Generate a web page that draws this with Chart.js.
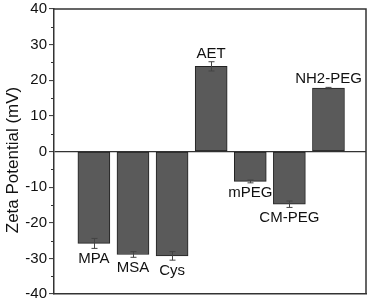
<!DOCTYPE html>
<html><head><meta charset="utf-8">
<script src="https://cdn.jsdelivr.net/npm/chart.js@4"></script>
<style>html,body{margin:0;padding:0;background:#fff}#wrap{width:370px;height:302px}</style>
</head><body><div id="wrap"><canvas id="c"></canvas></div>
<script>
const categories = ['MPA','MSA','Cys','AET','mPEG','CM-PEG','NH2-PEG'];
const zeta = [-25.8, -28.9, -29.3, 23.9, -8.4, -14.8, 17.8];
const errs = [1.4, 0.8, 1.2, 1.3, 0.4, 0.9, 0.2];
const yTicks = [-40,-30,-20,-10,0,10,20,30,40];
const yTitle = 'Zeta Potential (mV)';

const positions = categories.map((c,i)=>i+1);
const FONT = '"Liberation Sans", Arial, sans-serif';

const extras = {
  id:'extras',
  afterDatasetsDraw(chart){
    const {ctx, chartArea:a, scales:{x,y}} = chart;
    ctx.save();
    // frame top/right
    ctx.strokeStyle='#333'; ctx.lineWidth=1.5;
    ctx.beginPath();
    ctx.moveTo(a.left, a.top); ctx.lineTo(a.right, a.top); ctx.lineTo(a.right, a.bottom);
    ctx.stroke();
    // minor ticks
    ctx.lineWidth=1;
    for(let v=-35; v<=35; v+=10){
      const py=Math.round(y.getPixelForValue(v))+0.5;
      ctx.beginPath(); ctx.moveTo(a.left-3,py); ctx.lineTo(a.left,py); ctx.stroke();
    }
    // error bars
    ctx.strokeStyle='#444'; ctx.lineWidth=1;
    zeta.forEach((v,i)=>{
      const px=Math.round(x.getPixelForValue(positions[i]))+0.5;
      const y1=y.getPixelForValue(v-errs[i]), y2=y.getPixelForValue(v+errs[i]);
      ctx.beginPath();
      ctx.moveTo(px,y1); ctx.lineTo(px,y2);
      ctx.moveTo(px-3,y1); ctx.lineTo(px+3,y1);
      ctx.moveTo(px-3,y2); ctx.lineTo(px+3,y2);
      ctx.stroke();
    });
    // labels
    ctx.fillStyle='#111'; ctx.font='15px '+FONT;
    ctx.textAlign='center'; ctx.textBaseline='alphabetic';
    zeta.forEach((v,i)=>{
      const px=x.getPixelForValue(positions[i]);
      if(v<0){
        ctx.fillText(categories[i], px, y.getPixelForValue(v-errs[i])+14.5);
      } else {
        ctx.fillText(categories[i], px, y.getPixelForValue(v+errs[i])-4);
      }
    });
    // y title
    ctx.save();
    ctx.translate(13, 160);
    ctx.rotate(-Math.PI/2);
    ctx.font='17px '+FONT; ctx.textBaseline='middle';
    ctx.fillText(yTitle, 0, 0);
    ctx.restore();
    ctx.restore();
  }
};

new Chart(document.getElementById('c'), {
  type:'bar',
  data:{
    datasets:[{
      data: positions.map((p,i)=>({x:p, y:zeta[i]})),
      backgroundColor:'#5a5a5a',
      borderColor:'#222',
      borderWidth:1,
      borderSkipped:false,
      barThickness:32
    }]
  },
  options:{
    responsive:true, maintainAspectRatio:false, animation:false,
    layout:{padding:{top:9,right:4,left:0,bottom:0}},
    plugins:{legend:{display:false}, tooltip:{enabled:false}},
    scales:{
      x:{
        type:'linear', min:-0.02, max:7.96, offset:false,
        ticks:{display:false},
        grid:{display:false, offset:false},
        border:{display:true,color:'#333',width:1.5},
        afterFit(s){ s.height=6; }
      },
      y:{
        min:-40, max:40,
        afterBuildTicks(s){ s.ticks = yTicks.map(v=>({value:v})); },
        ticks:{color:'#111', font:{family:FONT, size:15, lineHeight:0.8}, padding:2},
        grid:{
          drawOnChartArea:true,
          color:(c)=> c.tick && c.tick.value===0 ? '#333' : 'rgba(0,0,0,0)',
          lineWidth:1.2,
          tickColor:'#333', tickLength:5, tickWidth:1
        },
        border:{display:true,color:'#333',width:1.5},
        title:{display:false},
        afterFit(s){ s.width=54; }
      }
    }
  },
  plugins:[extras]
});
</script></body></html>
